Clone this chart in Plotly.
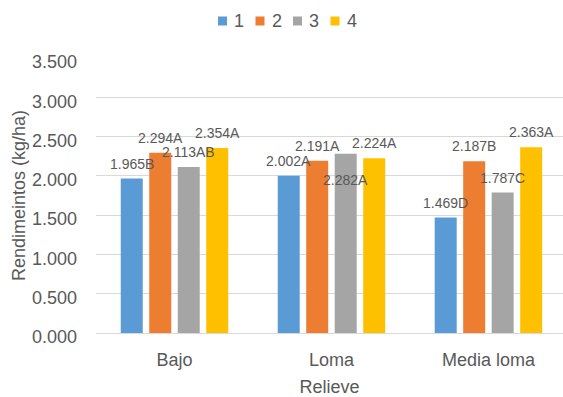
import plotly.graph_objects as go

# Yield by relief position and treatment
relieve = ["Bajo", "Loma", "Media loma"]
series_names = ["1", "2", "3", "4"]
rend_1 = [1965, 2002, 1469]
rend_2 = [2294, 2191, 2187]
rend_3 = [2113, 2282, 1787]
rend_4 = [2354, 2224, 2363]
letras_1 = ["B", "A", "D"]
letras_2 = ["A", "A", "B"]
letras_3 = ["AB", "A", "C"]
letras_4 = ["A", "A", "A"]
y_tick_vals = [0, 500, 1000, 1500, 2000, 2500, 3000, 3500]
y_tick_labels = ["0.000", "0.500", "1.000", "1.500", "2.000", "2.500", "3.000", "3.500"]

values = [rend_1, rend_2, rend_3, rend_4]
letters = [letras_1, letras_2, letras_3, letras_4]
colors = ["#5B9BD5", "#ED7D31", "#A5A5A5", "#FFC000"]
text_color = "#595959"
font_family = "Liberation Sans, Arial, sans-serif"

W, H = 563, 397
margin = dict(l=96, r=0, t=58, b=64)
x_range = [-0.5, 2.475]
bargap = 0.274
bargroupgap = 0.228

def fmt(v):
    # Spanish style: dot as thousands separator
    return f"{v:,}".replace(",", ".")

fig = go.Figure()
for name, vals, col in zip(series_names, values, colors):
    fig.add_trace(go.Bar(name=name, x=relieve, y=vals, marker_color=col,
                         marker_line_width=0, showlegend=False))

# Value labels with significance letters above each bar
plot_w = W - margin["l"] - margin["r"]
plot_h = H - margin["t"] - margin["b"]
cat_px = plot_w / (x_range[1] - x_range[0])
slot_px = cat_px * (1 - bargap) / len(series_names)
label_shift = [[15, 15, 15], [15, 15, 15], [15, -26, 15], [15, 15, 15]]
for i, (vals, lets) in enumerate(zip(values, letters)):
    for j, cat in enumerate(relieve):
        fig.add_annotation(
            x=cat, y=vals[j], text=fmt(vals[j]) + lets[j], showarrow=False,
            xanchor="center", yanchor="middle",
            xshift=(i - 1.5) * slot_px, yshift=label_shift[i][j],
            font=dict(size=14, color=text_color, family=font_family),
        )

# Legend row at the top
sq = 9
leg_x0 = 218
leg_pitch = 37.5
leg_y = 21
for i, (name, col) in enumerate(zip(series_names, colors)):
    x0 = leg_x0 + i * leg_pitch
    fig.add_shape(type="rect", xref="paper", yref="paper",
                  x0=(x0 - margin["l"]) / plot_w, x1=(x0 + sq - margin["l"]) / plot_w,
                  y0=1 + (margin["t"] - leg_y - sq / 2) / plot_h,
                  y1=1 + (margin["t"] - leg_y + sq / 2) / plot_h,
                  fillcolor=col, line_width=0)
    fig.add_annotation(xref="paper", yref="paper", showarrow=False,
                       x=(x0 + sq + 5 - margin["l"]) / plot_w, xanchor="left",
                       y=1 + (margin["t"] - leg_y) / plot_h, yanchor="middle",
                       text=name, font=dict(size=18, color=text_color, family=font_family))

fig.update_layout(
    width=W, height=H, margin=margin,
    barmode="group", bargap=bargap, bargroupgap=bargroupgap,
    plot_bgcolor="white", paper_bgcolor="white",
    font=dict(family=font_family, size=18, color=text_color),
    xaxis=dict(
        range=x_range, showgrid=False, showline=False, ticks="",
        tickfont=dict(size=18, color=text_color),
        ticklabelstandoff=14, automargin=False,
        title=dict(text="Relieve", font=dict(size=18, color=text_color), standoff=18),
    ),
    yaxis=dict(
        range=[0, 3500], tickvals=y_tick_vals, ticktext=y_tick_labels,
        showgrid=True, gridcolor="#D9D9D9", gridwidth=1,
        zeroline=True, zerolinecolor="#D9D9D9", zerolinewidth=1,
        showline=False, ticks="", automargin=False,
        tickfont=dict(size=18, color=text_color),
        ticklabelstandoff=18, ticklabelshift=4,
        title=dict(text="Rendimeintos (kg/ha)", font=dict(size=18, color=text_color), standoff=1),
    ),
)

fig.write_html("out.html")
